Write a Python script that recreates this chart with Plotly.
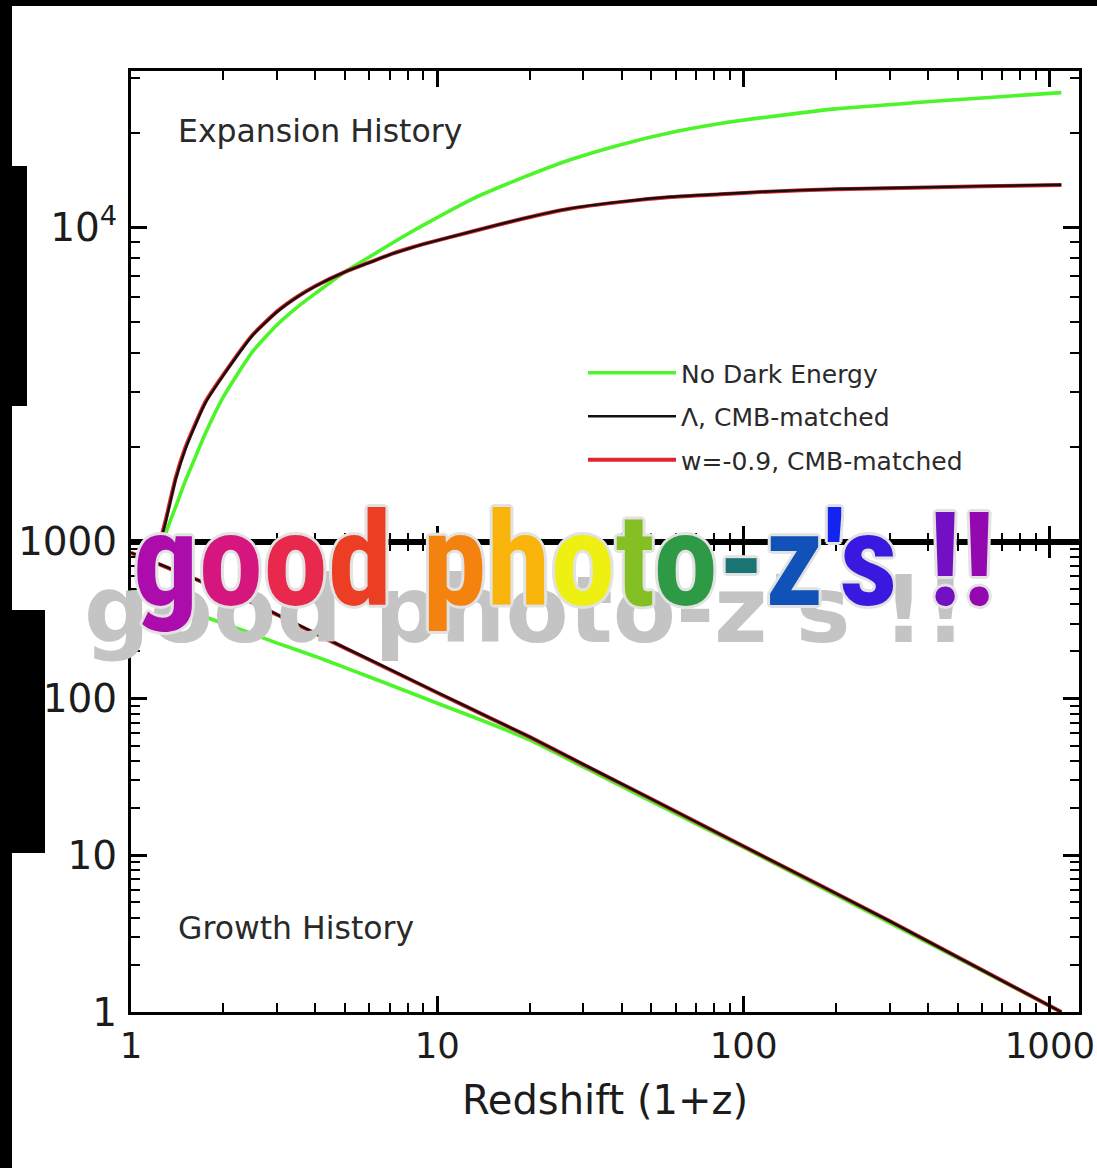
import plotly.graph_objects as go
from plotly.subplots import make_subplots

# ---------------- data ----------------
# 1+z sample points for the expansion-history panel (comoving distance)
opz_exp = [1.2, 1.25, 1.3, 1.4, 1.5, 1.6, 1.75, 2, 2.5, 3, 3.5, 4, 5, 6, 7, 8, 9, 13, 19,
           27, 40, 58, 84, 120, 200, 360, 600, 1090]
dist_no_de = [800, 900, 1065, 1292, 1550, 1800, 2213, 2885, 4045, 4910, 5600, 6180, 7250,
              8070, 8850, 9560, 10200, 12350, 14450, 16450, 18450, 20130, 21500, 22570,
              23950, 25060, 25950, 26980]
dist_lcdm = [830, 1000, 1162, 1580, 1950, 2280, 2767, 3380, 4550, 5400, 6030, 6515, 7235,
             7750, 8215, 8570, 8870, 9740, 10700, 11520, 12120, 12560, 12820, 13060, 13300,
             13440, 13580, 13720]
dist_w09 = [845, 1015, 1178, 1598, 1975, 2300, 2790, 3400, 4570, 5415, 6040, 6525, 7240,
            7755, 8220, 8575, 8872, 9738, 10690, 11505, 12100, 12540, 12800, 13040, 13280,
            13420, 13560, 13700]

# 1+z sample points for the growth-history panel
opz_grow = [1, 1.25, 1.5, 1.75, 2, 2.5, 3, 4, 5, 7, 10, 15, 20, 30, 50, 100, 300, 1090]
grow_no_de = [488, 418, 368, 330, 300, 257, 225, 185, 157, 122, 93.1, 68.6, 54.3, 36.5, 22,
              11.2, 3.7, 1.0]
grow_lcdm = [851, 712, 616, 543, 489, 408, 342, 260, 210, 153, 109, 74.4, 56.9, 37.9, 22.8,
             11.4, 3.8, 1.0]
grow_w09 = [846, 709, 614, 541, 487, 407, 341, 259, 209, 152, 108.6, 74.2, 56.8, 37.8, 22.8,
            11.4, 3.8, 1.0]

series_names = ["No Dark Energy", "Λ, CMB-matched", "w=-0.9, CMB-matched"]
series_colors = ["#4cf52a", "#111111", "#e0262a"]

x_tickvals = [1, 10, 100, 1000]
x_ticktext = ["1", "10", "100", "1000"]
y_top_tickvals = [1000, 10000]
y_top_ticktext = ["1000", "10<sup>4</sup>"]
y_bot_tickvals = [1, 10, 100]
y_bot_ticktext = ["1", "10", "100"]

headline = "good photo-z's !!"
headline_colors = ["#ac0cac", "#d4167e", "#e8284c", "#ec3e24", None,
                   "#f4820e", "#f8b40a", "#eef012", "#84c024", "#2e9a46",
                   "#1a7474", "#1052b8", "#1424f0", "#3a18e0", None,
                   "#7410c4", "#9408b0"]

# ---------------- layout geometry ----------------
W, H = 1097, 1168
L, R, T, B = 131, 1079, 71, 1012


def px_x(x):
    return (x - L) / (R - L)


def px_y(y):
    return (B - y) / (B - T)


def minor_log(lo, hi):
    vals = []
    for d in range(lo, hi):
        for k in range(2, 10):
            vals.append(k * 10 ** d)
    return vals


fig = make_subplots(rows=2, cols=1, shared_xaxes=True, vertical_spacing=0)

# draw order: green, red, black (black on top of red)
draw = [(0, 3.6), (2, 4.0), (1, 2.4)]
line_shape = dict(shape="spline", smoothing=0.5)
for idx, w in draw:
    ys = [dist_no_de, dist_lcdm, dist_w09][idx]
    fig.add_trace(go.Scatter(x=opz_exp, y=ys, mode="lines", name=series_names[idx],
                             line=dict(color=series_colors[idx], width=w, **line_shape),
                             legendgroup=str(idx), legendrank=idx + 1, showlegend=True),
                  row=1, col=1)
for idx, w in draw:
    ys = [grow_no_de, grow_lcdm, grow_w09][idx]
    fig.add_trace(go.Scatter(x=opz_grow, y=ys, mode="lines", name=series_names[idx],
                             line=dict(color=series_colors[idx], width=w, **line_shape),
                             legendgroup=str(idx), showlegend=False),
                  row=2, col=1)

axis_common = dict(showline=True, linecolor="black", linewidth=3, mirror="allticks",
                   ticks="inside", ticklen=16, tickwidth=2.5, tickcolor="black",
                   showgrid=False, zeroline=False, type="log", automargin=False)

x_minor = dict(ticks="inside", ticklen=9, tickwidth=2, tickcolor="black",
               tickmode="array", tickvals=minor_log(0, 4), showgrid=False)
for r in (1, 2):
    fig.update_xaxes(range=[0, 3.095], tickmode="array", tickvals=x_tickvals,
                     ticktext=x_ticktext, minor=x_minor, ticklabelstandoff=0,
                     tickfont=dict(family="DejaVu Sans", size=35.5, color="#1c1c1c"),
                     row=r, col=1, **axis_common)
fig.update_xaxes(title=dict(text="Redshift (1+z)", standoff=22,
                            font=dict(family="DejaVu Sans", size=40, color="#1c1c1c")),
                 row=2, col=1)

y_font = dict(family="DejaVu Sans", size=39, color="#1c1c1c")
fig.update_yaxes(range=[3, 4.5], tickmode="array", tickvals=y_top_tickvals,
                 ticktext=y_top_ticktext, ticklabelstandoff=3, tickfont=y_font,
                 minor=dict(ticks="inside", ticklen=9, tickwidth=2, tickcolor="black",
                            tickmode="array", tickvals=minor_log(3, 5), showgrid=False),
                 row=1, col=1, **axis_common)
fig.update_yaxes(range=[0, 3], tickmode="array", tickvals=y_bot_tickvals,
                 ticktext=y_bot_ticktext, ticklabelstandoff=3, tickfont=y_font,
                 minor=dict(ticks="inside", ticklen=9, tickwidth=2, tickcolor="black",
                            tickmode="array", tickvals=minor_log(0, 3), showgrid=False),
                 row=2, col=1, **axis_common)

# panel labels
label_font = dict(family="DejaVu Sans", size=31.5, color="#2a2a2a")
fig.add_annotation(text="Expansion History", xref="paper", yref="paper",
                   x=px_x(176), y=px_y(131), xanchor="left", yanchor="middle",
                   showarrow=False, font=label_font)
fig.add_annotation(text="Growth History", xref="paper", yref="paper",
                   x=px_x(176), y=px_y(928), xanchor="left", yanchor="middle",
                   showarrow=False, font=label_font)

# headline with its grey floor shadow
fig.add_annotation(text=headline, xref="paper", yref="paper",
                   x=px_x(525), y=px_y(610), xanchor="center", yanchor="middle",
                   showarrow=False,
                   font=dict(family="DejaVu Sans", size=92, color="#c4c4c4", weight="bold"))

spans = []
for ch, c in zip(headline, headline_colors):
    if c is None:
        spans.append(ch)
    else:
        spans.append(f'<span style="color:{c}">{ch}</span>')
outline = ", ".join(f"{dx}px {dy}px 0 #e2e2e2" for dx, dy in
                    [(3, 0), (-3, 0), (0, 3), (0, -3), (2, 2), (-2, -2), (2, -2), (-2, 2)])
fig.add_annotation(text="".join(spans), xref="paper", yref="paper",
                   x=px_x(564), y=px_y(560), xanchor="center", yanchor="middle",
                   showarrow=False,
                   font=dict(family="Roboto Condensed, Open Sans Condensed, sans-serif",
                             size=130, weight="bold", shadow=outline))

# black frame pieces around the white page
black = dict(type="rect", xref="paper", yref="paper", fillcolor="black",
             line=dict(width=0), layer="above")
for x0, y0, x1, y1 in [(0, 0, W, 6), (0, 0, 12, H), (0, 166, 27, 406), (0, 610, 45, 853)]:
    fig.add_shape(x0=px_x(x0), x1=px_x(x1), y0=px_y(y1), y1=px_y(y0), **black)

fig.update_layout(
    width=W, height=H,
    margin=dict(l=L, r=W - R, t=T, b=H - B, autoexpand=False),
    paper_bgcolor="white", plot_bgcolor="white",
    showlegend=True,
    legend=dict(x=px_x(583), y=px_y(350), xanchor="left", yanchor="top",
                bgcolor="rgba(0,0,0,0)", borderwidth=0, itemwidth=88,
                traceorder="grouped", tracegroupgap=8,
                font=dict(family="DejaVu Sans", size=25, color="#2a2a2a")),
)

fig.write_html("out.html")
